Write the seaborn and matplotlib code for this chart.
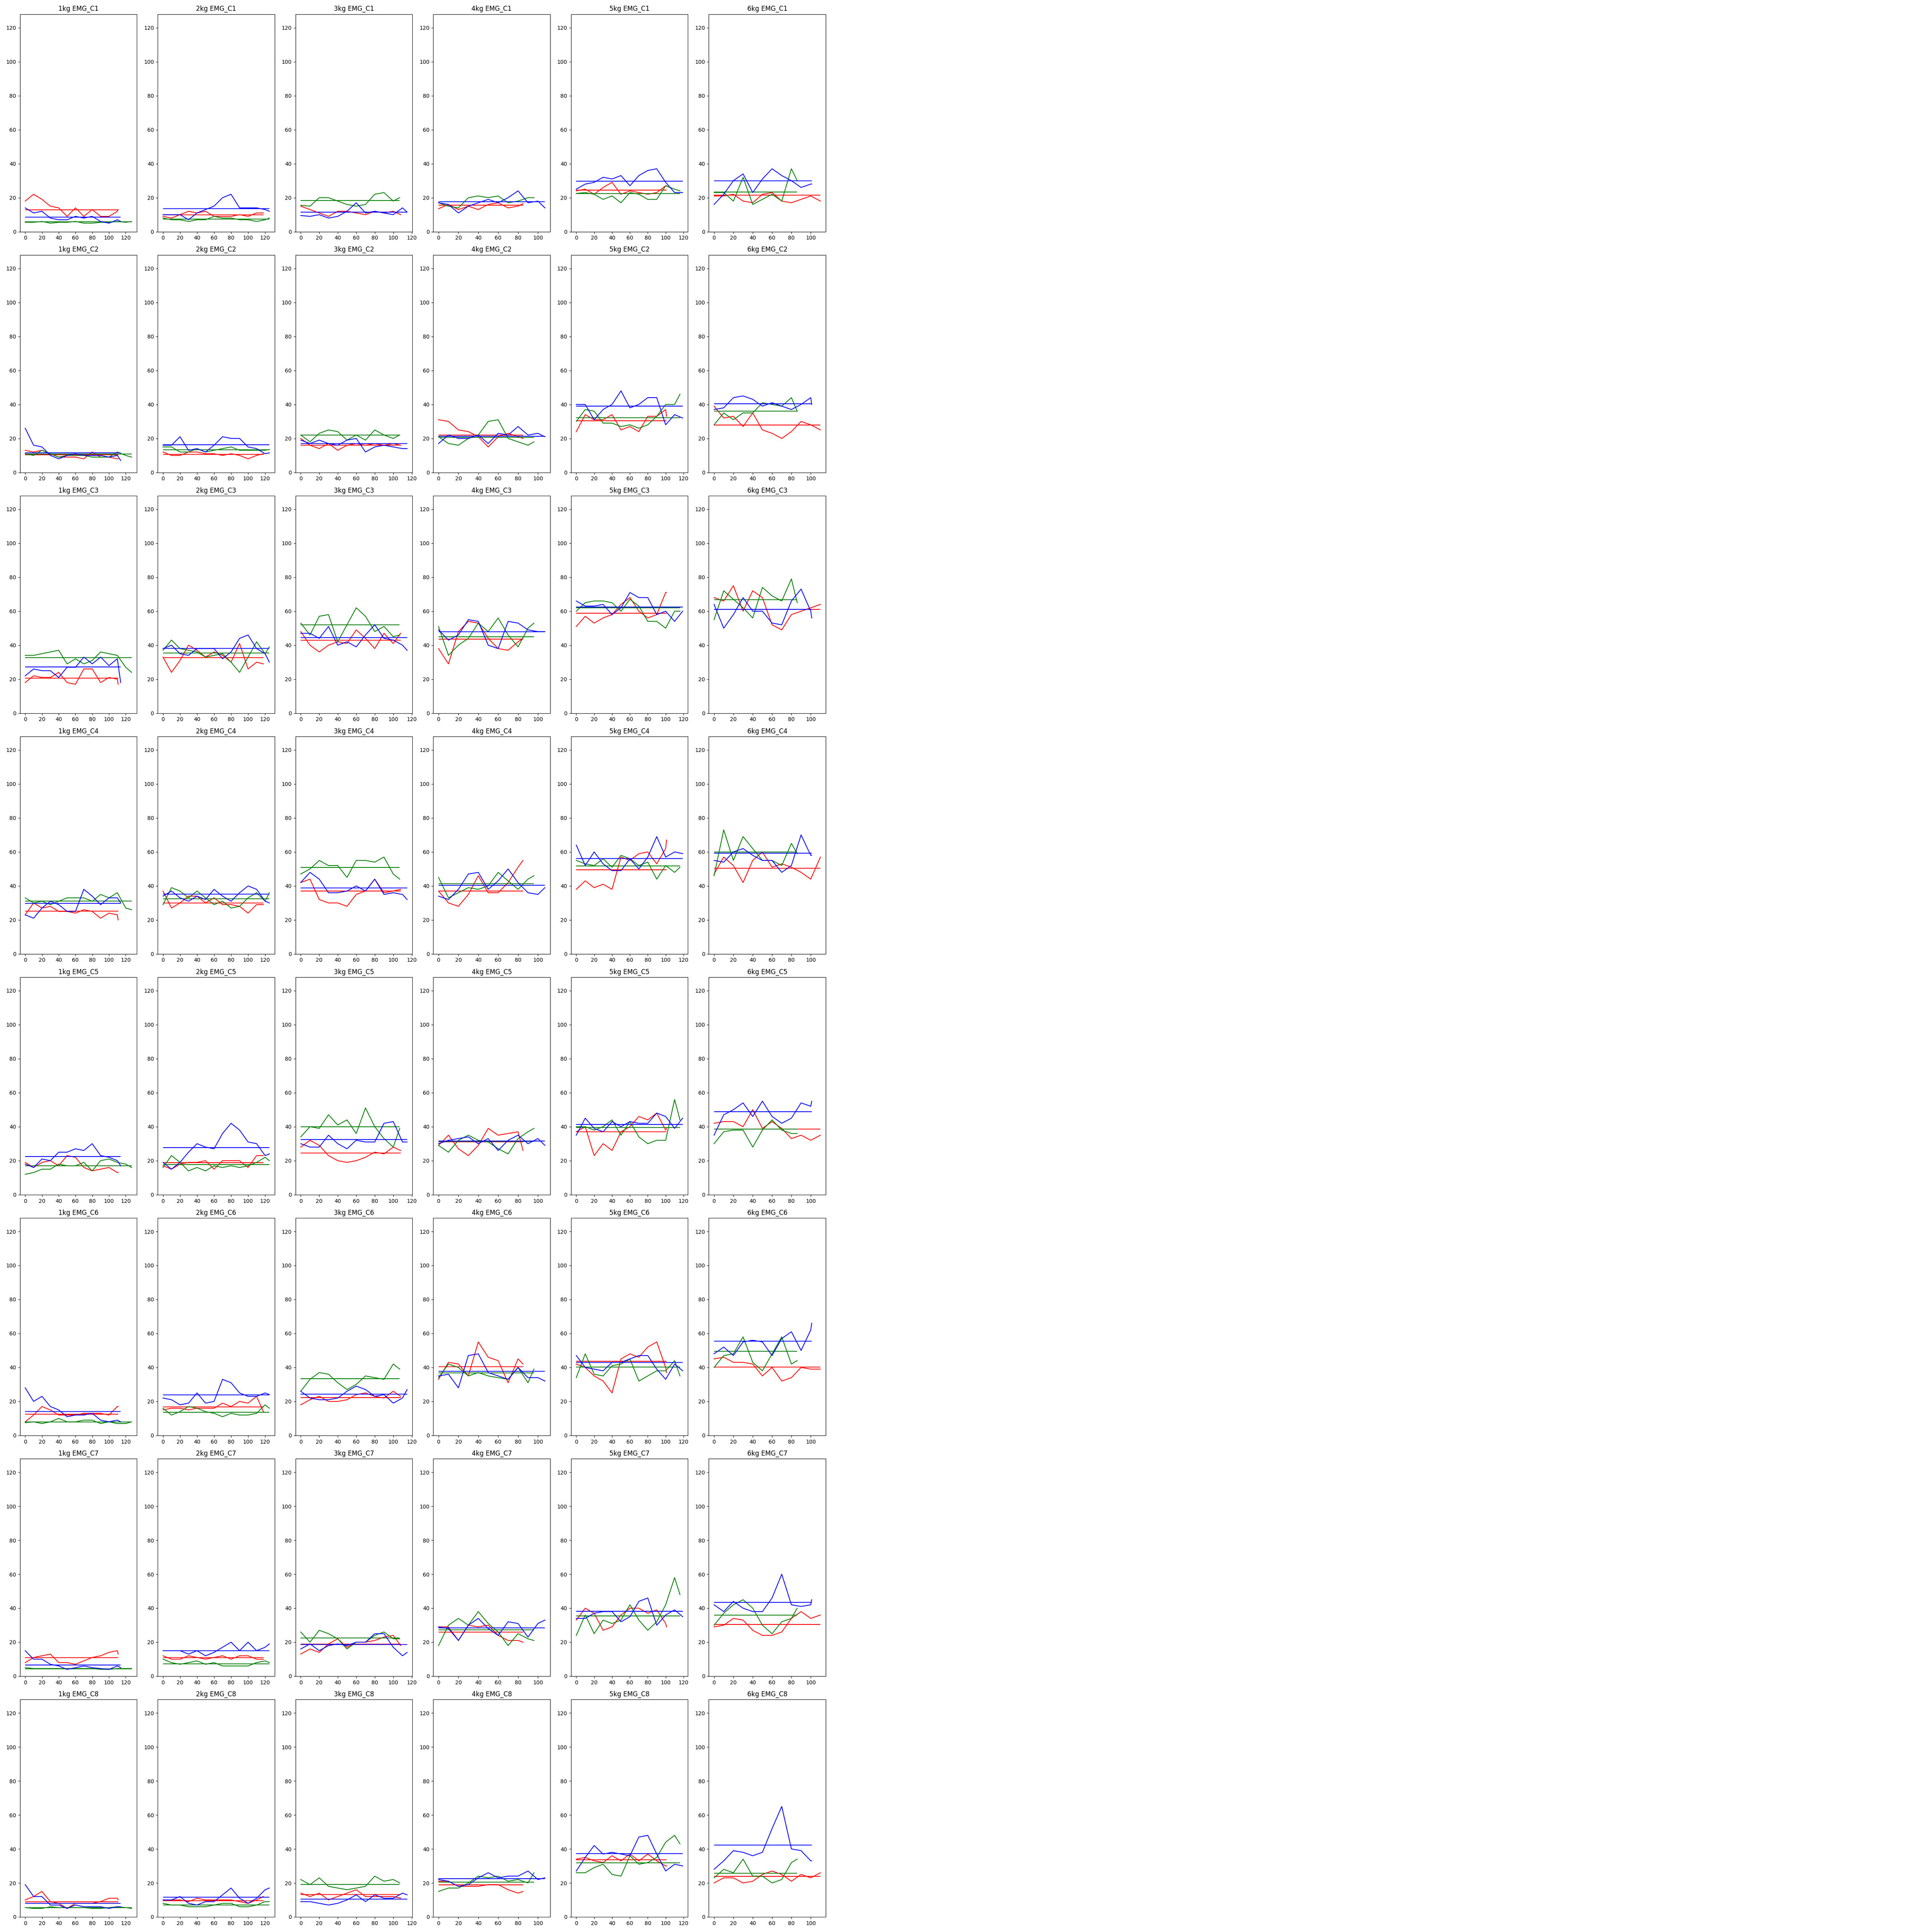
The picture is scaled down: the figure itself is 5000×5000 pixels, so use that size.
import numpy as np
import pandas as pd
import seaborn as sns
import matplotlib.pyplot as plt

weights = ['1kg', '2kg', '3kg', '4kg', '5kg', '6kg']
channels = ['EMG_C1', 'EMG_C2', 'EMG_C3', 'EMG_C4', 'EMG_C5', 'EMG_C6', 'EMG_C7', 'EMG_C8']
colors = {'r': 'red', 'g': 'green', 'b': 'blue'}

# last sample index of each trial, per weight
end_r = [111, 118, 108, 85, 101, 110]
end_g = [127, 125, 107, 96, 116, 86]
end_b = [114, 125, 115, 107, 119, 101]

# values read every 10 samples (last value = last sample), one list per weight
c1_r = [[18,22,19,15,14,9,14,9,13,9,9,12,13], [9,8,10,12,11,12,9,9,9,10,9,11,11], [15,13,11,9,12,12,11,10,12,11,12,10],
        [13.5,16,13,15,13,16,17,14,15,16.5], [24,25,22,26,29,22,24,23,22,23,27,27], [21,21,22,18,17,22,23,18,17,19,21,18]]
c1_g = [[5.5,5.5,6,5,5.5,5.5,6,5,5,5.5,5.5,6,5.5,6], [8,7,7,6,7,7,9,8,8,7,7,6,7,8], [15.5,15,20,20,18,16,15,16,22,23,18,20],
        [17,15,14,20,21,20,21,17,18,20,20], [22.5,23,22,19,21,17,23,22,19,19,27,25,24], [23,23,18,32,16,19,22,18,37,30]]
c1_b = [[14,11,12,8,7,7,9,8,9,6,5,7,6], [10,10,10,7,11,13,15,20,22,14,14,14,13,12], [9.5,9,10,8,9,12,17,11,12,11,10,14,11.5],
        [17,16,11,15,17,19,17,20,24,17,18,14], [25,28,29,32,31,33,27,33,36,37,29,23,23], [16,22,30,34,23,31,37,33,30,26,28,28]]

c2_r = [[13,12,13,11,9,9,9,8,12,9,9,8,8], [12,10,10,12,12,11,11,10,11,10,8,10,11], [20,16,14,17,13,16,17,16,17,16,17,16],
        [31,30,25,24,21,15,21,23,21,20], [24,34,31,31,34,25,27,24,33,33,37,33], [39,32,33,27,35,25,23,20,24,30,28,25]]
c2_g = [[11,10,13,11,9,10,10,10,9,9,9,12,10,9], [15,15,12,12,14,12,13,14,15,13,13,13,13,13.5], [22,18,23,25,24,19,22,19,25,22,20,22],
        [21,17,16,20,22,30,31,20,18,16,18], [30,37,36,29,29,27,28,26,28,33,40,40,46], [28,35,31,35,35,41,40,39,44,36]]
c2_b = [[26,16,15,10,8,10,11,10,10,10,9,10,7], [16,16,21,13,14,12,16,21,20,20,15,14,11,11.5], [19,17,19,17,16,19,20,12,15,16,15,14,14],
        [17,22,20,20,22,17,23,22,27,22,23,21], [40,40,31,37,40,48,38,40,44,44,28,34,32], [37,38,44,45,43,39,41,39,37,40,44,40]]

c3_r = [[18,22,21,21,24,18,17,26,26,18,21,20,17], [33,24,31,40,37,33,36,34,30,41,26,30,29], [48,40,36,40,42,41,49,44,38,47,41,47],
        [38,29,48,54,53,44,38,37,42,44], [51,57,53,56,58,64,68,60,56,58,71,71], [68,66,75,60,72,68,52,49,58,60,62,64]]
c3_g = [[34,34,35,36,37,29,32,29,31,36,35,34,27,24], [37,43,38,37,36,33,34,35,30,24,33,42,35,39], [53,46,57,58,42,52,62,57,48,51,45,46],
        [51,34,40,44,53,48,56,46,39,50,53], [60,65,66,66,65,60,67,63,54,54,50,60,60], [55,72,67,62,56,74,69,66,79,65]]
c3_b = [[22,26,25,25,21,27,27,33,29,33,28,32,18], [38,40,35,34,38,38,38,32,36,44,46,38,35,30], [47,47,44,51,40,42,39,46,52,44,43,40,37],
        [49,43,46,55,54,40,38,54,53,49,48,48], [66,63,63,64,58,62,71,68,68,58,60,54,60], [64,50,58,68,60,60,53,52,66,73,60,56]]

c4_r = [[23,30,27,28,25,25,24,26,25,21,24,23,20], [37,27,30,34,34,30,33,29,29,28,24,29,29], [42,44,32,30,30,28,35,37,44,36,37,38],
        [37,30,28,35,46,36,36,42,51,55], [38,43,39,41,38,57,55,59,60,53,62,67], [47,57,52,42,55,60,51,53,51,48,44,57]]
c4_g = [[33,30,31,29,31,33,33,33,31,35,33,36,27,26], [29,39,37,33,37,33,29,31,27,28,33,36,31,36], [47,50,55,52,52,45,55,55,54,57,47,44],
        [45,33,36,39,38,40,48,43,38,44,46], [55,53,52,56,51,58,56,52,54,44,52,48,51], [46,73,55,69,62,55,55,52,65,59]]
c4_b = [[23,21,27,31,29,25,25,38,34,29,33,33,30], [34,37,33,31,34,32,38,34,31,36,40,38,31,30], [42,48,44,36,36,37,40,37,44,35,36,35,32],
        [34,32,38,47,48,38,43,50,42,36,35,39], [64,52,60,53,49,49,56,50,57,69,57,60,59], [55,54,60,62,58,55,55,48,52,70,58,58]]

c5_r = [[19,16,19,20,17,23,22,16,14,15,16,13,13], [17,15,18,19,19,20,15,20,20,20,16,23,23], [28,32,29,23,20,19,20,22,25,24,28,26],
        [29,35,27,23,29,39,35,36,37,26], [37,40,23,30,26,37,40,46,44,48,38,39], [42,43,43,40,50,39,43,39,33,35,32,35]]
c5_g = [[12,13,15,15,18,17,17,19,14,20,21,19,18,16], [16,23,19,14,16,14,17,16,17,16,17,19,22,20], [34,40,39,47,41,44,36,51,40,33,28,39],
        [29,25,32,35,32,31,27,24,33,37,39], [40,40,38,40,44,35,43,34,30,32,32,56,44], [30,37,38,38,28,38,44,38,36,36]]
c5_b = [[18,16,21,20,25,25,27,26,30,23,22,20,17], [19,15,19,25,30,28,27,36,42,38,31,30,23,24], [30,28,28,35,30,27,32,31,31,42,43,31,31],
        [30,32,33,34,30,33,26,32,35,30,33,29], [35,45,39,37,43,40,43,42,42,48,46,39,45], [35,47,50,54,46,55,46,42,45,54,52,55]]

c6_r = [[8,12,17,15,12,12,12,13,13,13,12,17,17], [15,16,16,15,16,16,16,19,17,20,19,23,14], [18,21,23,20,20,21,24,25,23,22,26,23],
        [33,43,42,35,55,46,44,31,45,42], [42,40,35,32,25,45,48,46,52,55,40,37], [45,46,43,43,42,35,40,32,34,40,39,39]]
c6_g = [[7.5,8,7,8,10,8,8,9,9,7,8,7,7,8], [16,12,14,17,16,14,13,11,13,12,12,13,18,16], [26,33,37,36,31,27,30,35,34,33,42,39],
        [34,42,40,35,37,35,34,33,40,31,39], [34,48,36,35,41,42,45,32,35,38,38,44,35], [40,47,48,58,43,38,48,58,42,44]]
c6_b = [[28,20,23,17,15,11,12,12,13,9,8,9,8], [22,21,18,19,25,19,20,33,31,25,23,23,25,24], [26,22,21,21,22,26,29,27,23,24,19,22,27],
        [35,36,28,47,48,37,35,33,40,34,34,32], [47,40,39,38,43,43,45,47,47,39,33,42,38], [48,52,47,55,56,55,47,57,61,50,62,66]]

c7_r = [[8,11,12,13,8,8,7,9,11,12,14,15,13], [12,10,10,12,11,10,11,12,10,12,12,10,10], [13,16,14,19,22,17,20,20,21,23,24,18],
        [29,29,21,30,29,30,24,21,21,20], [33,40,37,27,29,36,40,40,37,39,31,29], [29,30,34,33,27,24,24,26,34,38,34,36]]
c7_g = [[5,4.5,4.5,4.5,4.5,4.5,4.5,4.5,4.5,4,4,4.5,4.5,4.5], [10,8,7,8,9,7,8,6,6,6,6,8,9,8], [26,20,27,25,22,16,20,20,24,26,22,22],
        [18,30,34,30,38,31,26,18,25,22,21], [24,36,25,33,31,33,42,33,27,32,42,58,48], [30,37,42,45,40,30,25,32,34,40]]
c7_b = [[15,10,10,7,6,4,5,6,5,4.5,4,6,5], [15,15,15,13,15,12,14,17,20,15,20,15,17,19], [16,19,15,18,19,18,20,20,25,25,17,12,14],
        [29,28,21,30,34,28,24,32,31,23,31,33], [34,34,37,38,38,32,35,44,46,30,36,39,35], [42,38,44,40,38,38,46,60,42,41,42,45]]

c8_r = [[10,12,15,9,8,5,8,8,8,9,11,11,10], [10,10,10,9,11,10,10,10,10,9,8,10,12], [14,12,14,10,12,14,16,12,12,12,12,11],
        [21,21,18,18,18,19,19,16,14,15], [34,35,33,32,36,33,37,33,37,33,30,30], [20,23,23,20,21,25,27,25,21,25,23,26]]
c8_g = [[5.5,5,5,6,5.5,5.5,5.5,5.5,5,5,5.5,6,5.5,5], [8,7,7,6,6,6,7,8,8,6,6,7,9,9], [22,19,23,18,17,16,17,18,24,21,22,20],
        [15,17,17,20,24,23,24,21,22,20,26], [26,26,29,31,25,24,36,31,32,35,44,48,43], [23,28,26,34,24,24,20,22,32,34]]
c8_b = [[19,12,12,7,7,5,7,6,6,6,5,6,6], [10,10,12,8,7,9,9,13,17,11,8,11,16,17], [9,9,8,7,8,10,13,9,13,11,11,14,13],
        [22,21,18,19,23,26,23,24,24,27,22,23], [27,35,42,37,38,37,36,47,48,37,27,31,30], [28,33,39,38,36,38,52,65,40,39,33,33]]

# mean level of each trial (rows: channel, cols: weight)
mean_r = [[12.8, 9.8, 11.6, 15.5, 24.4, 21.5], [10.4, 10.5, 16.0, 22.0, 30.4, 27.8],
          [20.5, 32.7, 42.9, 43.5, 58.7, 61.0], [25.1, 30.0, 37.1, 36.9, 49.6, 50.5],
          [17.1, 18.9, 24.5, 31.0, 37.1, 38.7], [12.4, 16.9, 22.2, 40.4, 43.6, 40.2],
          [10.8, 11.0, 18.9, 25.9, 35.5, 30.5], [8.9, 9.6, 13.1, 18.9, 33.6, 23.8]]
mean_g = [[5.7, 7.3, 18.2, 17.6, 22.5, 23.3], [10.9, 13.3, 22.0, 20.7, 32.2, 36.0],
          [32.7, 35.3, 52.0, 45.0, 62.0, 66.7], [31.0, 32.4, 50.9, 41.3, 51.8, 60.0],
          [17.1, 17.6, 40.0, 31.3, 39.5, 38.7], [8.0, 13.6, 33.3, 36.7, 40.2, 49.5],
          [4.4, 7.3, 22.4, 27.2, 35.4, 35.8], [5.5, 7.1, 19.1, 20.4, 31.8, 25.6]]
mean_b = [[8.5, 13.6, 11.6, 17.6, 29.6, 30.0], [11.5, 16.2, 16.9, 21.3, 39.0, 40.4],
          [27.3, 38.2, 44.5, 48.0, 62.4, 61.0], [29.8, 35.1, 38.9, 40.4, 56.2, 59.3],
          [22.4, 27.8, 32.4, 31.5, 41.3, 48.9], [14.0, 23.8, 24.4, 37.8, 42.9, 55.4],
          [6.6, 15.0, 18.7, 28.4, 38.2, 43.5], [8.0, 11.5, 10.4, 22.5, 37.3, 42.2]]

red = [c1_r, c2_r, c3_r, c4_r, c5_r, c6_r, c7_r, c8_r]
green = [c1_g, c2_g, c3_g, c4_g, c5_g, c6_g, c7_g, c8_g]
blue = [c1_b, c2_b, c3_b, c4_b, c5_b, c6_b, c7_b, c8_b]

# long table: one row per sample
rows = []
for ci, ch in enumerate(channels):
    for wi, w in enumerate(weights):
        for key, traces, ends in (('r', red, end_r), ('g', green, end_g), ('b', blue, end_b)):
            vals = traces[ci][wi]
            x = np.arange(len(vals)) * 10
            x[-1] = ends[wi]
            for xi, v in zip(x, vals):
                rows.append((ch, w, key, xi, v))
df = pd.DataFrame(rows, columns=['channel', 'weight', 'trial', 'sample', 'value'])

fig = plt.figure(figsize=(50, 50), dpi=100)
gs = fig.add_gridspec(8, 6, left=0.0103, right=0.4274, top=0.9927, bottom=0.0078,
                      wspace=0.1775, hspace=0.1066)

for ci, ch in enumerate(channels):
    for wi, w in enumerate(weights):
        ax = fig.add_subplot(gs[ci, wi])
        for key, ends, means in (('r', end_r, mean_r), ('g', end_g, mean_g), ('b', end_b, mean_b)):
            d = df[(df.channel == ch) & (df.weight == w) & (df.trial == key)]
            sns.lineplot(data=d, x='sample', y='value', color=colors[key], ax=ax,
                         estimator=None, sort=False, linewidth=1.5)
            ax.hlines(means[ci][wi], 0, ends[wi], color=colors[key], linewidth=1.5)
        ax.set_ylim(0, 128)
        ax.set_title(f'{w} {ch}')
        ax.set_xlabel('')
        ax.set_ylabel('')

fig.savefig('out.png', dpi=100)
